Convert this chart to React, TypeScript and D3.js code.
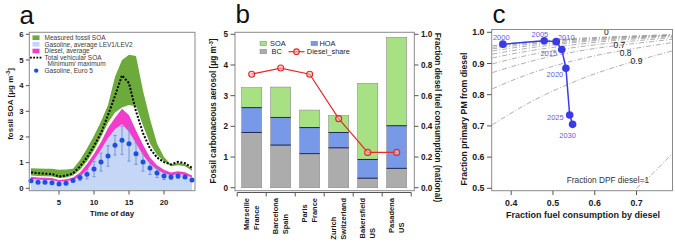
import React from "react";
import * as d3 from "d3";

const FONT = "'Liberation Sans', Arial, Helvetica, sans-serif";

// ---------- Panel a data ----------
const hours = [1, 2, 3, 4, 5, 6, 7, 8, 9, 10, 11, 12, 13, 14, 15, 16, 17, 18, 19, 20, 21, 22, 23, 24];
const measuredTop = [0.78, 0.77, 0.76, 0.76, 0.72, 0.73, 0.76, 1.1, 1.55, 2.05, 2.6, 3.25, 4.35, 5.0, 5.2, 5.15, 3.8, 2.7, 1.75, 1.22, 0.93, 1.0, 0.95, 0.76];
const measuredBottom = [0.5, 0.48, 0.47, 0.46, 0.4, 0.42, 0.5, 0.72, 1.05, 1.48, 2.0, 2.55, 2.95, 3.15, 3.25, 3.2, 2.45, 1.75, 1.3, 1.05, 0.86, 0.9, 0.86, 0.68];
const dieselTop = [0.45, 0.42, 0.41, 0.4, 0.32, 0.35, 0.42, 0.62, 0.95, 1.35, 1.8, 2.35, 2.75, 3.1, 2.85, 2.25, 1.7, 1.2, 0.9, 0.72, 0.62, 0.66, 0.63, 0.5];
const gasolineAvg = [0.36, 0.33, 0.32, 0.32, 0.25, 0.27, 0.32, 0.45, 0.7, 1.1, 1.5, 1.95, 2.3, 2.5, 2.2, 1.75, 1.3, 0.95, 0.72, 0.58, 0.5, 0.55, 0.52, 0.42];
const totalVehicular = [0.62, 0.59, 0.57, 0.56, 0.46, 0.5, 0.58, 0.85, 1.2, 1.65, 2.15, 2.85, 3.6, 4.4, 4.1, 3.0, 2.15, 1.55, 1.2, 1.02, 0.93, 1.03, 0.98, 0.8];
const gasolineEuro5 = [0.29, 0.24, 0.24, 0.22, 0.17, 0.2, 0.3, 0.42, 0.55, 0.75, 1.02, 1.26, 1.68, 1.87, 1.74, 1.35, 1.02, 0.79, 0.6, 0.48, 0.44, 0.48, 0.44, 0.32];
const gasolineEuro5Err = [0.05, 0.05, 0.05, 0.05, 0.05, 0.05, 0.08, 0.12, 0.18, 0.3, 0.35, 0.4, 0.38, 0.55, 0.68, 0.42, 0.35, 0.25, 0.18, 0.14, 0.1, 0.1, 0.08, 0.06];
const aYTicks = [0, 1, 2, 3, 4, 5, 6];
const aXTicks = [5, 10, 15, 20];
const aLegend = ["Measured fossil SOA", "Gasoline, average LEV1/LEV2", "Diesel, average", "Total vehicular SOA", "Minimum/ maximum", "Gasoline, Euro 5"];

// ---------- Panel b data ----------
const cityLines = [["Marseille", "France"], ["Barcelona", "Spain"], ["Paris", "France"], ["Zurich", "Switzerland"], ["Bakersfield", "US"], ["Pasadena", "US"]];
const bcValues = [1.8, 1.39, 1.11, 1.3, 0.31, 0.63];
const hoaValues = [0.81, 0.9, 0.85, 0.5, 0.61, 1.39];
const soaValues = [0.65, 0.99, 0.57, 0.55, 2.48, 2.88];
const dieselShare = [0.74, 0.78, 0.74, 0.45, 0.23, 0.23];
const bLeftTicks = [0, 1, 2, 3, 4, 5];
const bRightTicks = [0, 0.2, 0.4, 0.6, 0.8, 1.0];

// ---------- Panel c data ----------
const years = [2000, 2005, 2010, 2015, 2020, 2025, 2030];
const fuelByDiesel = [0.38, 0.479, 0.508, 0.521, 0.531, 0.54, 0.547];
const pmFromDiesel = [0.962, 0.973, 0.97, 0.945, 0.885, 0.735, 0.705];
const contourX = [0.355, 0.45, 0.55, 0.65, 0.79];
const contourLevels = [0, 0.1, 0.2, 0.3, 0.4, 0.5, 0.6, 0.7, 0.8, 0.9];
const contourY = [
  [0.957, 0.970, 0.980, 0.986, 0.993],
  [0.952, 0.967, 0.977, 0.985, 0.992],
  [0.947, 0.963, 0.975, 0.983, 0.991],
  [0.940, 0.958, 0.971, 0.981, 0.990],
  [0.930, 0.951, 0.967, 0.978, 0.989],
  [0.918, 0.942, 0.960, 0.974, 0.987],
  [0.899, 0.929, 0.951, 0.967, 0.983],
  [0.871, 0.908, 0.937, 0.957, 0.978],
  [0.819, 0.870, 0.909, 0.938, 0.968],
  [0.704, 0.779, 0.841, 0.889, 0.942],
];
const dpfOneX = [0.70, 0.74, 0.79];
const dpfOneY = [0.5, 0.549, 0.617];
const contourLabels = ["0", "0.7", "0.8", "0.9"];
const contourLabelX = [0.628, 0.659, 0.674, 0.70];
const contourLabelY = [1.0, 0.959, 0.933, 0.909];
const cXTicks = [0.4, 0.5, 0.6, 0.7];
const cYTicks = [0.5, 0.6, 0.7, 0.8, 0.9, 1.0];

const COL = {
  green: "#6caa3c",
  lightBlue: "#c6d6f6",
  magenta: "#f23ccb",
  euro5: "#1f4fe0",
  err: "#6f8fd0",
  soa: "#a8e084",
  hoa: "#7898e8",
  bc: "#acacac",
  sep: "#1d2a5c",
  red: "#e42a22",
  blueLine: "#3a3ae6",
  yearText: "#6262da",
  frame: "#8a8a8a",
  text: "#1a1a1a",
};

function PanelA() {
  const x = d3.scaleLinear().domain([5, 20]).range([59, 164]);
  const y = d3.scaleLinear().domain([0, 6]).range([188.3, 34.3]);
  const fr = { l: 29.3, r: 195, t: 32.3, b: 190.7 };
  const yMin = y.invert(fr.b);
  const idx = hours.map((_, i) => i);
  const band = (lo: (i: number) => number, hi: (i: number) => number) =>
    d3.area<number>().x((i) => x(hours[i])).y0((i) => y(lo(i))).y1((i) => y(hi(i)))(idx) || "";
  const totalLine = d3.line<number>().x((i) => x(hours[i])).y((i) => y(totalVehicular[i]))(idx) || "";
  const legendY = [37.7, 44.3, 51, 57.6, 64.1, 70.6];
  return (
    <g fontFamily={FONT}>
      <path d={band(() => yMin, (i) => gasolineAvg[i])} fill={COL.lightBlue} />
      <path d={band((i) => gasolineAvg[i], (i) => dieselTop[i])} fill={COL.magenta} />
      <path d={band((i) => measuredBottom[i], (i) => measuredTop[i])} fill={COL.green} />
      <path d={totalLine} fill="none" stroke="#000" strokeWidth={2} strokeDasharray="2,1.6" />
      {idx.map((i) =>
        gasolineEuro5Err[i] > 0.09 ? (
          <g key={"e" + i} stroke={COL.err} strokeWidth={0.9}>
            <line x1={x(hours[i])} x2={x(hours[i])} y1={y(gasolineEuro5[i] - gasolineEuro5Err[i])} y2={y(gasolineEuro5[i] + gasolineEuro5Err[i])} />
            <line x1={x(hours[i]) - 1.6} x2={x(hours[i]) + 1.6} y1={y(gasolineEuro5[i] + gasolineEuro5Err[i])} y2={y(gasolineEuro5[i] + gasolineEuro5Err[i])} />
            <line x1={x(hours[i]) - 1.6} x2={x(hours[i]) + 1.6} y1={y(gasolineEuro5[i] - gasolineEuro5Err[i])} y2={y(gasolineEuro5[i] - gasolineEuro5Err[i])} />
          </g>
        ) : null
      )}
      {idx.map((i) => (
        <circle key={"d" + i} cx={x(hours[i])} cy={y(gasolineEuro5[i])} r={2.5} fill={COL.euro5} />
      ))}
      <rect x={fr.l} y={fr.t} width={fr.r - fr.l} height={fr.b - fr.t} fill="none" stroke={COL.frame} strokeWidth={1} />
      {aYTicks.map((t) => (
        <g key={"y" + t}>
          <line x1={fr.l - 3.5} x2={fr.l} y1={y(t)} y2={y(t)} stroke="#555" />
          <text x={23.5} y={y(t) + 2.8} textAnchor="end" fontSize={7.8} fontWeight="bold" fill={COL.text}>{t}</text>
        </g>
      ))}
      {aXTicks.map((t) => (
        <g key={"x" + t}>
          <line x1={x(t)} x2={x(t)} y1={fr.b} y2={fr.b + 3.8} stroke="#555" />
          <text x={x(t)} y={205} textAnchor="middle" fontSize={7.8} fontWeight="bold" fill={COL.text}>{t}</text>
        </g>
      ))}
      <text x={112} y={215.5} textAnchor="middle" fontSize={8} fontWeight="bold" fill={COL.text}>Time of day</text>
      <text transform="translate(13.3,104) rotate(-90)" textAnchor="middle" fontSize={8} fontWeight="bold" fill={COL.text}>
        fossil SOA [μg m<tspan dy={-3} fontSize={5.5}>-3</tspan><tspan dy={3}>]</tspan>
      </text>
      {/* legend */}
      <rect x={32.5} y={legendY[0] - 2.3} width={7} height={4.6} fill={COL.green} />
      <rect x={32.5} y={legendY[1] - 2.3} width={7} height={4.6} fill={COL.lightBlue} />
      <rect x={32.5} y={legendY[2] - 2.3} width={7} height={4.6} fill={COL.magenta} />
      <line x1={30} x2={41.5} y1={legendY[3]} y2={legendY[3]} stroke="#000" strokeWidth={1.8} strokeDasharray="1.8,1.4" />
      <circle cx={36.2} cy={legendY[5]} r={2.2} fill={COL.euro5} />
      {aLegend.map((s, i) => (
        <text key={s} x={i === 4 ? 47.5 : 44.5} y={legendY[i] + 2.3} fontSize={6.5} fill="#3a3a3a">{s}</text>
      ))}
      <text x={19.5} y={24} fontSize={26} fill="#111">a</text>
    </g>
  );
}

function measure(text: string, font: string): number {
  try {
    const c = document.createElement("canvas").getContext("2d");
    if (c) {
      c.font = font;
      return c.measureText(text).width;
    }
  } catch (e) {}
  return text.length * 4.3;
}

function PanelB() {
  const fr = { l: 235, r: 414.3, t: 32.3, b: 190.7 };
  const x = d3.scaleBand<number>().domain(cityLines.map((_, i) => i)).range([237.2, 411.2]).paddingInner(0.31).paddingOuter(0.155);
  const yL = d3.scaleLinear().domain([0, 5]).range([187.7, 34.3]);
  const yR = d3.scaleLinear().domain([0, 1]).range([187.7, 34.3]);
  const rows = cityLines.map((_, i) => ({ bc: bcValues[i], hoa: hoaValues[i], soa: soaValues[i] }));
  const stack = d3.stack<any>().keys(["bc", "hoa", "soa"])(rows);
  const colors: Record<string, string> = { bc: COL.bc, hoa: COL.hoa, soa: COL.soa };
  const bw = x.bandwidth();
  const cx = (i: number) => (x(i) as number) + bw / 2;
  const shareLine = d3.line<number>().x((v, i) => cx(i)).y((v) => yR(v))(dieselShare) || "";
  const step = x.step();
  const boundaries = d3.range(cityLines.length + 1).map((k) => 237.2 + k * step);
  const labSize = 7.5;
  const labFont = `bold ${labSize}px ${FONT}`;
  return (
    <g fontFamily={FONT}>
      {stack.map((layer) =>
        layer.map((d, i) => (
          <rect key={layer.key + i} x={x(i)} y={yL(d[1])} width={bw} height={yL(d[0]) - yL(d[1])} fill={colors[layer.key]} stroke="#8c8c8c" strokeWidth={0.6} />
        ))
      )}
      {stack.slice(0, 2).map((layer) =>
        layer.map((d, i) => (
          <line key={"s" + layer.key + i} x1={x(i)} x2={(x(i) as number) + bw} y1={yL(d[1])} y2={yL(d[1])} stroke={COL.sep} strokeWidth={1} />
        ))
      )}
      <path d={shareLine} fill="none" stroke={COL.red} strokeWidth={1.2} />
      {dieselShare.map((v, i) => (
        <circle key={"c" + i} cx={cx(i)} cy={yR(v)} r={3} fill="#f4b3c2" fillOpacity={0.6} stroke={COL.red} strokeWidth={1.1} />
      ))}
      <rect x={fr.l} y={fr.t} width={fr.r - fr.l} height={fr.b - fr.t} fill="none" stroke={COL.frame} strokeWidth={1} />
      {bLeftTicks.map((t) => (
        <g key={"l" + t}>
          <line x1={fr.l - 4.5} x2={fr.l} y1={yL(t)} y2={yL(t)} stroke="#555" />
          <text x={228} y={yL(t) + 2.9} textAnchor="end" fontSize={8.2} fontWeight="bold" fill={COL.text}>{t}</text>
        </g>
      ))}
      {bRightTicks.map((t) => (
        <g key={"r" + t}>
          <line x1={fr.r} x2={fr.r + 4.2} y1={yR(t)} y2={yR(t)} stroke="#555" />
          <text x={421} y={yR(t) + 2.9} fontSize={8.2} fontWeight="bold" fill={COL.text}>{t.toFixed(1)}</text>
        </g>
      ))}
      <line x1={boundaries[0]} x2={boundaries[boundaries.length - 1]} y1={192.5} y2={192.5} stroke="#555" />
      {boundaries.map((b, k) => (
        <line key={"b" + k} x1={b} x2={b} y1={192.5} y2={196.5} stroke="#555" />
      ))}
      {cityLines.map((lines, i) => {
        const maxW = Math.max(...lines.map((s) => measure(s, labFont)));
        const offs = [-2.6, 6.8];
        return lines.map((s, j) => (
          <text key={"cl" + i + j} transform={`translate(${cx(i) + offs[j]},${198 + maxW}) rotate(-90)`} fontSize={labSize} fontWeight="bold" fill={COL.text}>{s}</text>
        ));
      })}
      <text transform="translate(216.3,111) rotate(-90)" textAnchor="middle" fontSize={8.2} fontWeight="bold" fill={COL.text}>
        Fossil carbonaceous aerosol [μg m<tspan dy={-3} fontSize={5.6}>-3</tspan><tspan dy={3}>]</tspan>
      </text>
      <text transform="translate(435,117.5) rotate(90)" textAnchor="middle" fontSize={8.3} fontWeight="bold" fill={COL.text}>
        Fraction diesel fuel consumption (national)
      </text>
      {/* legend */}
      <rect x={260} y={41.2} width={6.7} height={4.5} fill={COL.soa} stroke="#888" strokeWidth={0.5} />
      <text x={270} y={45.9} fontSize={7.4} fill="#222">SOA</text>
      <rect x={311} y={41.2} width={6.7} height={4.5} fill={COL.hoa} stroke="#888" strokeWidth={0.5} />
      <text x={319.5} y={45.9} fontSize={7.4} fill="#222">HOA</text>
      <rect x={260} y={49.3} width={6.7} height={4.5} fill={COL.bc} stroke="#888" strokeWidth={0.5} />
      <text x={271.5} y={54.3} fontSize={7.4} fill="#222">BC</text>
      <line x1={288.5} x2={304.5} y1={51.7} y2={51.7} stroke={COL.red} strokeWidth={1.2} />
      <circle cx={296.5} cy={51.7} r={2.8} fill="#f4b3c2" fillOpacity={0.6} stroke={COL.red} strokeWidth={1.1} />
      <text x={306.8} y={54.4} fontSize={7.4} fill="#222">Diesel_share</text>
      <text x={235.5} y={23} fontSize={26} fill="#111">b</text>
    </g>
  );
}

function PanelC() {
  const fr = { l: 491.7, r: 672.5, t: 29.5, b: 190.7 };
  const x = d3.scaleLinear().domain([0.4, 0.7]).range([511.2, 636.5]);
  const y = d3.scaleLinear().domain([0.5, 1.0]).range([188.3, 32.3]);
  const cLine = d3.line<number>().curve(d3.curveNatural);
  const pts = years.map((_, i) => i);
  const trajectory = d3.line<number>().x((i) => x(fuelByDiesel[i])).y((i) => y(pmFromDiesel[i]))(pts) || "";
  const yearOff: [number, number][] = [[-1.6, -4.2], [-4.3, -3.6], [10, -1.6], [-13, 6.2], [-11, 8.5], [-14.3, 5.1], [-5, 13.5]];
  return (
    <g fontFamily={FONT}>
      <defs>
        <clipPath id="clipC">
          <rect x={fr.l} y={fr.t} width={fr.r - fr.l} height={fr.b - fr.t} />
        </clipPath>
      </defs>
      <g clipPath="url(#clipC)" fill="none" stroke="#9a9a9a" strokeWidth={0.8} strokeDasharray="5,2,1,2">
        {contourY.map((ys, k) => (
          <path key={"k" + contourLevels[k]} d={cLine(contourX.map((cx, j) => [x(cx), y(ys[j])] as [number, number])) || ""} />
        ))}
        <path d={cLine(dpfOneX.map((cx, j) => [x(cx), y(dpfOneY[j])] as [number, number])) || ""} />
      </g>
      {contourLabels.map((s, i) => (
        <text key={"lab" + s} x={x(contourLabelX[i])} y={y(contourLabelY[i]) + 3} textAnchor="middle" fontSize={8.5} fill="#222">{s}</text>
      ))}
      <text x={x(0.73)} y={y(0.527) + 3} textAnchor="end" fontSize={8.3} fill="#333">Fraction DPF diesel=1</text>
      <path d={trajectory} fill="none" stroke={COL.blueLine} strokeWidth={1.5} />
      {pts.map((i) => (
        <circle key={"p" + i} cx={x(fuelByDiesel[i])} cy={y(pmFromDiesel[i])} r={3.8} fill={COL.blueLine} />
      ))}
      {pts.map((i) => (
        <text key={"yr" + i} x={x(fuelByDiesel[i]) + yearOff[i][0]} y={y(pmFromDiesel[i]) + yearOff[i][1]} textAnchor="middle" fontSize={7.5} fill={COL.yearText}>{years[i]}</text>
      ))}
      <rect x={fr.l} y={fr.t} width={fr.r - fr.l} height={fr.b - fr.t} fill="none" stroke={COL.frame} strokeWidth={1} />
      {cYTicks.map((t) => (
        <g key={"cy" + t}>
          <line x1={fr.l - 4.7} x2={fr.l} y1={y(t)} y2={y(t)} stroke="#555" />
          <text x={484.5} y={y(t) + 3.1} textAnchor="end" fontSize={8.8} fontWeight="bold" fill={COL.text}>{t.toFixed(1)}</text>
        </g>
      ))}
      {cXTicks.map((t) => (
        <g key={"cx" + t}>
          <line x1={x(t)} x2={x(t)} y1={fr.b} y2={fr.b + 4.3} stroke="#555" />
          <text x={x(t)} y={205.5} textAnchor="middle" fontSize={8.8} fontWeight="bold" fill={COL.text}>{t.toFixed(1)}</text>
        </g>
      ))}
      <text x={583} y={217.5} textAnchor="middle" fontSize={9} fontWeight="bold" fill={COL.text}>Fraction fuel consumption by diesel</text>
      <text transform="translate(467.3,119) rotate(-90)" textAnchor="middle" fontSize={8.7} fontWeight="bold" fill={COL.text}>Fraction primary PM from diesel</text>
      <text x={492.5} y={23} fontSize={26} fill="#111">c</text>
    </g>
  );
}

export default function App() {
  return (
    <svg width={675} height={242} viewBox="0 0 675 242" style={{ position: "absolute", left: 0, top: 0, display: "block", background: "#fff" }}>
      <rect x={0} y={0} width={675} height={242} fill="#fff" />
      <PanelA />
      <PanelB />
      <PanelC />
    </svg>
  );
}
